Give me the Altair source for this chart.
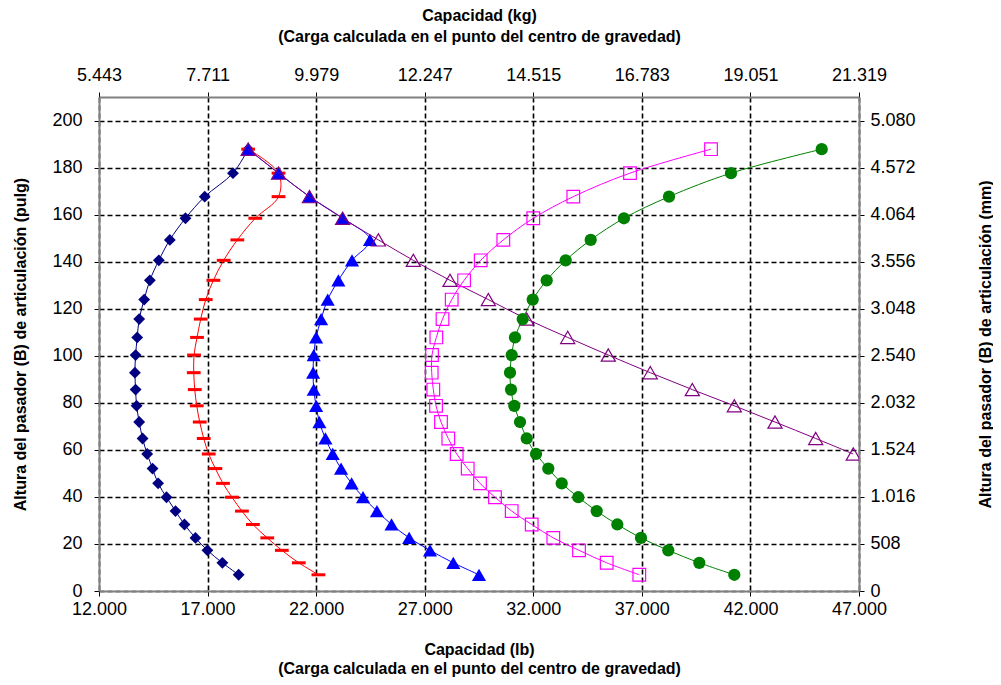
import altair as alt
import pandas as pd

# Heights of the articulation pin (pulg), shared by the curves
heights = [188.0, 177.8, 167.8, 158.6, 149.4, 140.7, 132.2, 124.0, 115.7, 107.9,
           100.4, 92.9, 85.7, 78.8, 71.9, 64.9, 58.3, 52.1, 45.8, 39.9,
           34.0, 28.3, 22.6, 17.3, 12.0, 6.9]

# Capacity (lb) per series
navy_lb = [18870, 18169, 16869, 15982, 15261, 14756, 14343, 14081, 13851, 13759,
           13686, 13654, 13686, 13732, 13851, 14007, 14219, 14466, 14723, 15109,
           15523, 15936, 16442, 16993, 17682, 18431]
red_lb = [18870, 20268, 20268, 19197, 18371, 17742, 17268, 16915, 16685, 16515,
          16377, 16364, 16410, 16501, 16639, 16823, 17053, 17360, 17710, 18123,
          18583, 19088, 19749, 20420, 21201, 22105]
blue_lb = [18870, 20268, 21692, 23221, 24480, 23653, 23024, 22533, 22229, 21999,
           21889, 21862, 21889, 21999, 22151, 22427, 22762, 23148, 23635, 24160,
           24800, 25472, 26285, 27244, 28317, 29500]
purple_lb = [18870, 20268, 21692, 23221, 24865, 26475, 28164, 29929, 31697, 33585,
             35455, 37387, 39323, 41257, 43132, 45006, 46737]
magenta_lb = [40185, 36454, 33843, 32000, 30620, 29578, 28814, 28243, 27819, 27536,
              27336, 27322, 27396, 27521, 27750, 28086, 28473, 28980, 29546, 30237,
              31006, 31927, 32922, 34106, 35381, 36882]
green_lb = [45282, 41105, 38250, 36175, 34644, 33492, 32618, 31973, 31513, 31158,
            31006, 30928, 30974, 31126, 31389, 31697, 32126, 32691, 33309, 34073,
            34920, 35870, 36960, 38218, 39646, 41257]

# Tick values and labels
x_ticks = [12000, 17000, 22000, 27000, 32000, 37000, 42000, 47000]
x_labels_lb = ["12.000", "17.000", "22.000", "27.000", "32.000", "37.000", "42.000", "47.000"]
x_labels_kg = ["5.443", "7.711", "9.979", "12.247", "14.515", "16.783", "19.051", "21.319"]
y_ticks = [0, 20, 40, 60, 80, 100, 120, 140, 160, 180, 200]
y_labels_pulg = ["0", "20", "40", "60", "80", "100", "120", "140", "160", "180", "200"]
y_labels_mm = ["0", "508", "1.016", "1.524", "2.032", "2.540", "3.048", "3.556", "4.064", "4.572", "5.080"]


def label_expr(vals, labels):
    parts = [f"round(datum.value) == {v} ? '{l}'" for v, l in zip(vals, labels)]
    return " : ".join(parts) + " : ''"


series = [
    ("navy", navy_lb, "#000080", "diamond", True, 140),
    ("red", red_lb, "#FF0000", "M-1,-0.22H1V0.22H-1Z", True, 190),
    ("blue", blue_lb, "#0000FF", "triangle-up", True, 200),
    ("purple", purple_lb, "#800080", "triangle-up", False, 200),
    ("magenta", magenta_lb, "#FF00FF", "square", False, 160),
    ("green", green_lb, "#008000", "circle", True, 150),
]

FONT = "Liberation Sans"
xscale = alt.Scale(domain=[12000, 47000], nice=False, zero=False)
yscale = alt.Scale(domain=[0, 210.2], nice=False, zero=False)

common_axis = dict(
    labelFont=FONT, labelFontSize=18, labelColor="#000000", labelFlush=False,
    titleFont=FONT, titleFontSize=16, titleFontWeight="bold", titleColor="#000000",
    domainColor="#808080", domainWidth=2, tickColor="#000000", tickSize=5,
)

x_bottom = alt.Axis(
    orient="bottom", values=x_ticks, labelExpr=label_expr(x_ticks, x_labels_lb),
    title=["Capacidad (lb)", "(Carga calculada en el punto del centro de gravedad)"],
    grid=True, gridColor="#000000", gridDash=[5, 3], gridWidth=1.6,
    labelPadding=4, titlePadding=23, titleLineHeight=19, **common_axis)
x_top = alt.Axis(
    orient="top", values=x_ticks, labelExpr=label_expr(x_ticks, x_labels_kg),
    title=["Capacidad (kg)", "(Carga calculada en el punto del centro de gravedad)"],
    grid=False, labelPadding=8, titlePadding=22, titleLineHeight=21, **common_axis)
y_left = alt.Axis(
    orient="left", values=y_ticks, labelExpr=label_expr(y_ticks, y_labels_pulg),
    title="Altura del pasador (B) de articulación (pulg)",
    grid=True, gridColor="#000000", gridDash=[5, 3], gridWidth=1.6,
    labelPadding=12, titlePadding=23, **common_axis)
y_right = alt.Axis(
    orient="right", values=y_ticks, labelExpr=label_expr(y_ticks, y_labels_mm),
    title="Altura del pasador (B) de articulación (mm)", titleAngle=270,
    grid=False, labelPadding=6, titlePadding=78, **common_axis)

axis_df = pd.DataFrame({"lb": x_ticks[:2], "pulg": y_ticks[:2]})
axis_layer1 = alt.Chart(axis_df).mark_point(opacity=0).encode(
    x=alt.X("lb:Q", scale=xscale, axis=x_bottom),
    y=alt.Y("pulg:Q", scale=yscale, axis=y_left),
)
axis_layer2 = alt.Chart(axis_df).mark_point(opacity=0).encode(
    x=alt.X("lb:Q", scale=xscale, axis=x_top),
    y=alt.Y("pulg:Q", scale=yscale, axis=y_right),
)

layers = [axis_layer1, axis_layer2]
for name, lbs, color, shape, filled, size in series:
    df = pd.DataFrame({"lb": lbs, "pulg": heights[:len(lbs)], "idx": list(range(len(lbs)))})
    base = alt.Chart(df)
    line = base.mark_line(color=color, strokeWidth=1, interpolate="catmull-rom", clip=True).encode(
        x=alt.X("lb:Q", scale=xscale, axis=None),
        y=alt.Y("pulg:Q", scale=yscale, axis=None),
        order="idx:Q",
    )
    pt = base.mark_point(
        shape=shape, filled=filled, size=size, opacity=1, clip=True,
        color=color, strokeWidth=1.2 if not filled else 0,
    ).encode(
        x=alt.X("lb:Q", scale=xscale, axis=None),
        y=alt.Y("pulg:Q", scale=yscale, axis=None),
    )
    layers.extend([line, pt])

chart = alt.layer(*layers).resolve_axis(x="independent", y="independent").properties(
    width=760, height=494,
    autosize=alt.AutoSizeParams(type="none"),
    padding={"left": 91, "top": 89, "right": 134, "bottom": 86},
).configure_view(stroke=None).configure(background="#FFFFFF")

chart.save("out.html", embed_options={"renderer": "svg", "actions": False})
